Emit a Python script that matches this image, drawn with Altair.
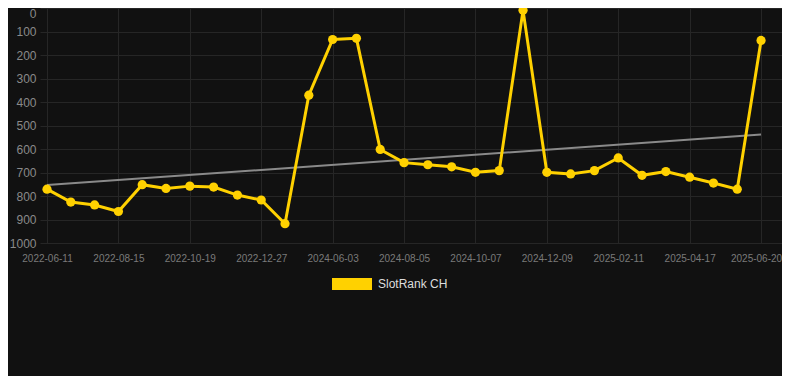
import altair as alt
import pandas as pd

# ---- data ----
ranks = [771, 826, 838, 866, 752, 768, 758, 762, 796, 817,
         918, 371, 134, 129, 602, 658, 667, 676, 699, 692,
         10, 699, 706, 692, 638, 712, 696, 720, 745, 771, 138]
tick_labels = ["2022-06-11", "2022-08-15", "2022-10-19", "2022-12-27",
               "2024-06-03", "2024-08-05", "2024-10-07", "2024-12-09",
               "2025-02-11", "2025-04-17", "2025-06-20"]
series_name = "SlotRank CH"
y_ticks = [0, 100, 200, 300, 400, 500, 600, 700, 800, 900, 1000]

df = pd.DataFrame({
    "idx": list(range(len(ranks))),
    "rank": ranks,
    "series": [series_name] * len(ranks),
})

FONT = "Liberation Sans"
YELLOW = "#FFD100"
label_js = "[" + ",".join("'%s'" % s for s in tick_labels) + "]"
last_idx = len(ranks) - 1

x_enc = alt.X(
    "idx:Q",
    scale=alt.Scale(domain=[-0.294, 30.88], nice=False, zero=False),
    axis=alt.Axis(
        values=list(range(0, len(ranks), 3)),
        labelExpr=label_js + "[round(datum.value / 3)]",
        title=None,
        labelFontSize=10,
        labelColor="#7a7a7a",
        labelPadding=10,
        labelOffset={"condition": {"test": "datum.value === %d" % last_idx, "value": -5},
                     "value": 0},
        ticks=False,
        domain=False,
        grid=True,
        gridColor="#262626",
        labelFont=FONT,
    ),
)
y_enc = alt.Y(
    "rank:Q",
    scale=alt.Scale(domain=[0, 1000], reverse=True, nice=False, zero=False),
    axis=alt.Axis(
        values=y_ticks,
        format="d",
        title=None,
        labelFontSize=12,
        labelColor="#8a8a8a",
        labelPadding=4,
        labelBaseline={"condition": {"test": "datum.value === 0", "value": "top"},
                       "value": "middle"},
        ticks=False,
        domain=False,
        grid=True,
        gridColor="#262626",
        labelFont=FONT,
    ),
)

base = alt.Chart(df)

trend = base.transform_regression("idx", "rank").mark_line(
    color="#8a8a8a", strokeWidth=2
).encode(x=x_enc, y=y_enc)

line = base.mark_line(color=YELLOW, strokeWidth=3).encode(x=x_enc, y=y_enc)

points = base.mark_point(filled=True, size=85, opacity=1).encode(
    x=x_enc,
    y=y_enc,
    color=alt.Color(
        "series:N",
        scale=alt.Scale(domain=[series_name], range=[YELLOW]),
        legend=alt.Legend(
            title=None,
            orient="none",
            legendX=292,
            legendY=256,
            symbolType="M-1,-0.3H1V0.3H-1Z",
            symbolSize=1600,
            symbolStrokeWidth=0,
            labelColor="#dddddd",
            labelFontSize=12,
            labelFont=FONT,
            labelOffset=6,
        ),
    ),
)

chart = (
    alt.layer(trend, line, points)
    .properties(
        width=742,
        height=235,
        background="#111111",
        autosize=alt.AutoSizeParams(type="none"),
        padding={"left": 32, "top": 0, "right": 0, "bottom": 133},
    )
    .configure_view(stroke=None)
)

chart.save("out.html", embed_options={"renderer": "svg", "actions": False})
